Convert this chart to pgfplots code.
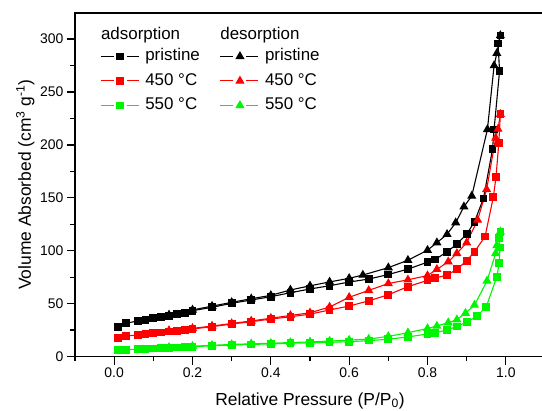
\documentclass[border=0pt]{standalone}
\usepackage{fontspec}
\setmainfont{Liberation Sans}
\usepackage{pgfplots}
\usepackage{pgfplotstable}
\pgfplotsset{compat=1.18}
\definecolor{oRed}{RGB}{255,0,0}
\definecolor{oGreen}{RGB}{0,245,0}

% adsorption / desorption branches, P/P0 vs volume
\pgfplotstableread{
x y
0.01 27.6
0.03 31.4
0.06 33.6
0.08 34.5
0.10 36.1
0.12 37.1
0.14 38.6
0.16 40.2
0.18 41.4
0.20 43.3
0.25 46.5
0.30 50.3
0.35 53.4
0.40 56.5
0.45 60.3
0.50 63.8
0.55 66.9
0.60 70.4
0.65 73.2
0.70 77.5
0.75 82.6
0.80 89.2
0.82 91.8
0.85 99.0
0.875 106.3
0.90 115.5
0.92 127.4
0.943 149.5
0.966 196.0
0.970 214.7
0.984 270.0
0.980 296.0
0.986 303.5
}\adsP
\pgfplotstableread{
x y
0.986 303.5
0.977 286.6
0.970 275.0
0.953 214.7
0.913 151.7
0.893 141.6
0.872 126.5
0.85 115.5
0.824 107.6
0.80 100.5
0.75 91.0
0.70 84.0
0.635 77.0
0.60 73.9
0.55 70.5
0.50 66.8
0.45 62.9
0.40 57.8
0.35 54.6
0.30 51.2
0.25 47.6
0.20 44.0
0.14 39.3
}\desP
\pgfplotstableread{
x y
0.01 17.2
0.03 19.4
0.06 20.3
0.08 21.0
0.10 21.9
0.12 22.6
0.14 23.6
0.16 24.4
0.18 25.0
0.20 26.0
0.25 28.2
0.30 30.7
0.35 32.9
0.40 35.4
0.45 37.6
0.50 40.0
0.55 44.0
0.60 47.7
0.65 52.6
0.70 58.4
0.75 66.0
0.80 72.0
0.82 74.2
0.85 77.0
0.875 82.4
0.90 90.6
0.92 99.0
0.947 113.5
0.968 150.5
0.975 170.0
0.982 201.5
0.986 229.0
}\adsA
\pgfplotstableread{
x y
0.986 229.0
0.980 215.0
0.974 206.5
0.951 158.0
0.928 129.0
0.90 107.6
0.875 97.5
0.853 89.6
0.824 82.4
0.80 76.5
0.75 72.5
0.70 69.0
0.65 62.5
0.60 56.0
0.55 46.8
0.50 41.3
0.45 38.8
0.40 36.2
0.35 33.6
0.30 31.2
0.25 28.8
0.20 26.6
0.14 24.6
}\desA
\pgfplotstableread{
x y
0.01 6.1
0.03 6.3
0.06 7.0
0.08 7.2
0.10 7.6
0.12 7.9
0.14 8.3
0.16 8.6
0.18 8.9
0.20 9.3
0.25 10.1
0.30 10.8
0.35 11.4
0.40 11.9
0.45 12.5
0.50 12.9
0.55 13.4
0.60 14.0
0.65 15.0
0.70 16.3
0.75 18.5
0.80 21.3
0.82 22.5
0.85 25.0
0.875 28.5
0.90 32.5
0.926 38.0
0.95 47.0
0.977 75.4
0.983 88.3
0.985 103.0
0.983 111.7
0.986 118.0
}\adsB
\pgfplotstableread{
x y
0.986 118.0
0.977 105.0
0.974 97.5
0.952 71.5
0.92 48.6
0.897 41.0
0.875 34.8
0.853 32.0
0.824 28.8
0.80 26.5
0.75 22.5
0.70 19.0
0.65 16.5
0.60 15.5
0.55 14.6
0.50 13.8
0.45 13.2
0.40 12.5
0.35 12.0
0.30 11.4
0.25 10.6
0.20 9.7
0.14 8.6
}\desB

\begin{document}
\begin{tikzpicture}
\begin{axis}[
  scale only axis,
  width=470bp, height=343.8bp,
  xmin=-0.1, xmax=1.1, ymin=0, ymax=325,
  axis line style={line width=1.8bp},
  tick style={line width=1.3bp, black},
  tick align=outside, tick pos=left,
  major tick length=8bp, minor tick length=4.5bp,
  xtick={0,0.2,0.4,0.6,0.8,1.0},
  minor xtick={-0.1,0.1,0.3,0.5,0.7,0.9},
  ytick={0,50,100,150,200,250,300},
  minor ytick={25,75,125,175,225,275},
  /pgf/number format/assume math mode=true,
  x tick label style={/pgf/number format/fixed, /pgf/number format/fixed zerofill,
    /pgf/number format/precision=1},
  tick label style={font=\fontsize{14}{14}\selectfont},
  xlabel={Relative Pressure (P/P\textsubscript{0})},
  ylabel={Volume Absorbed (cm\textsuperscript{3} g\textsuperscript{-1})},
  label style={font=\fontsize{17.5}{17.5}\selectfont},
  xlabel style={at={(axis description cs:0.5,-0.128)}, anchor=center},
  ylabel style={at={(axis description cs:-0.106,0.5)}, anchor=center},
  legend columns=2,
  legend cell align=left,
  legend style={at={(axis description cs:0.0532,0.896)}, anchor=north west,
    draw=none, fill=none, inner sep=0pt, row sep=9bp,
    font=\fontsize{17}{17}\selectfont,
    nodes={inner sep=0pt, text height=12bp, text depth=3.5bp},
    /tikz/every odd column/.append style={column sep=6bp},
    /tikz/every even column/.append style={column sep=20bp}},
  legend image code/.code={
    \draw[mark=none] (0bp,0bp) -- (13bp,0bp);
    \draw[mark=none] (26bp,0bp) -- (38bp,0bp);
    \draw[only marks] plot coordinates {(19.5bp,0bp)};
  },
  every axis plot/.append style={line width=1.1bp},
]
\addplot[black, mark=square*, mark size=3.3bp] table {\adsP};
\addlegendentry{pristine}
\addplot[black, mark=triangle*, mark size=4.2bp] table {\desP};
\addlegendentry{pristine}
\addplot[oRed, mark=square*, mark size=3.3bp] table {\adsA};
\addlegendentry{450 °C}
\addplot[oRed, mark=triangle*, mark size=4.2bp] table {\desA};
\addlegendentry{450 °C}
\addplot[oGreen, mark=square*, mark size=3.3bp] table {\adsB};
\addlegendentry{550 °C}
\addplot[oGreen, mark=triangle*, mark size=4.2bp] table {\desB};
\addlegendentry{550 °C}

\node[anchor=base west, inner sep=0pt, font=\fontsize{17}{17}\selectfont]
  at (axis cs:-0.034,299.6) {adsorption};
\node[anchor=base west, inner sep=0pt, font=\fontsize{17}{17}\selectfont]
  at (axis cs:0.2706,299.6) {desorption};
\end{axis}
\pgfresetboundingbox
\path[use as bounding box] (-75bp,-54.5bp) rectangle (467bp,356.5bp);
\end{tikzpicture}
\end{document}
